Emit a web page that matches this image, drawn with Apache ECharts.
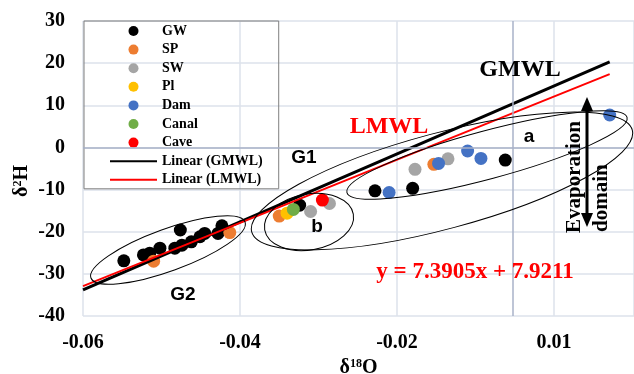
<!DOCTYPE html>
<html>
<head>
<meta charset="utf-8">
<script src="https://cdn.jsdelivr.net/npm/echarts@6/dist/echarts.min.js"></script>
<style>
  html, body { margin: 0; padding: 0; background: #fff; }
  #chart { width: 634px; height: 374px; }
</style>
</head>
<body>
<div id="chart"></div>
<script>
// values: [δ18O, δ2H]
const gw = [
  [-0.0548, -26.9], [-0.0523, -25.5], [-0.0515, -25.1], [-0.0502, -23.9],
  [-0.0476, -19.6], [-0.0483, -23.9], [-0.0474, -23.2], [-0.0462, -22.4],
  [-0.0451, -21.2], [-0.0445, -20.4], [-0.0423, -18.6], [-0.0428, -20.4],
  [-0.0324, -13.7],
  [-0.0228, -10.3], [-0.0180, -9.7], [-0.0062, -3.0]
]
const sp    = [[-0.0510, -27.0], [-0.0413, -20.2], [-0.0350, -16.3], [-0.0153, -4.0]]
const sw    = [[-0.0310, -15.2], [-0.0286, -13.3], [-0.0177, -5.2], [-0.0135, -2.7]]
const pl    = [[-0.0340, -15.6]]
const dam   = [[-0.0210, -10.7], [-0.0147, -3.8], [-0.0110, -0.85], [-0.0093, -2.6], [0.0071, 7.7]]
const canal = [[-0.0332, -14.7]]
const cave  = [[-0.0295, -12.5]]

// trendlines (end points)
const gmwl = [[-0.06, -33.8], [0.0071, 20.3]]
const lmwl = [[-0.06, -32.9], [0.0071, 17.4]]

// axis ticks as printed
const xTicks      = [-0.06, -0.04, -0.02, 0]
const xTickLabels = ['-0.06', '-0.04', '-0.02', '0.01']
const axisCrossX  = -0.0052   // where the dark vertical axis line sits

const serif = "'Liberation Serif', 'Times New Roman', serif"
const sans  = "'Liberation Sans', Arial, sans-serif"

const chart = echarts.init(document.getElementById('chart'), null, { renderer: 'canvas' })

function dots(name, data, color) {
  return { name, type: 'scatter', data, symbol: 'circle', symbolSize: 13,
    itemStyle: { color, opacity: 1 }, emphasis: { disabled: true } }
}

function label(text, x, y, size, color, family, rotation) {
  return {
    type: 'text', x, y, z: 120, rotation: rotation || 0, silent: true,
    style: { text, fill: color, fontSize: size, fontWeight: 'bold', fontFamily: family,
      align: rotation ? 'left' : 'center', verticalAlign: 'middle' },
  }
}

function ring(cx, cy, rx, ry, deg) {
  return { type: 'ellipse', x: cx, y: cy, rotation: deg * Math.PI / 180, z: 110, silent: true,
    shape: { cx: 0, cy: 0, rx, ry }, style: { fill: null, stroke: '#000', lineWidth: 1 } }
}

const supRich = {
  d: { fontFamily: serif, fontWeight: 'bold', fontSize: 20, color: '#000' },
  s: { fontFamily: serif, fontWeight: 'bold', fontSize: 12, color: '#000', verticalAlign: 'top', padding: [0, 0, 6, 0] },
}

const gridColor = '#dde2eb'
const axisDark  = '#a8b2c8'

chart.setOption({
  animation: false,
  backgroundColor: '#fff',
  grid: { left: 83, right: 0, top: 21, bottom: 58, outerBoundsMode: 'none' },
  legend: {
    orient: 'vertical', left: 84, top: 21,
    padding: [3, 16, 2, 25],
    itemWidth: 47, itemHeight: 10, itemGap: 4.6,
    borderColor: '#7f7f7f', borderWidth: 1,
    selectedMode: false,
    textStyle: { fontFamily: serif, fontWeight: 'bold', fontSize: 14, lineHeight: 14, color: '#000' },
    data: ['GW', 'SP', 'SW', 'Pl', 'Dam', 'Canal', 'Cave',
      { name: 'Linear (GMWL)', itemStyle: { opacity: 0 } },
      { name: 'Linear (LMWL)', itemStyle: { opacity: 0 } }],
  },
  xAxis: {
    type: 'value', min: -0.06, max: 0.0102, interval: 0.02,
    name: '{d|δ}{s|18}{d|O}', nameLocation: 'middle', nameGap: 33,
    nameTextStyle: { rich: supRich },
    axisLine: { show: false }, axisTick: { show: false },
    axisLabel: {
      margin: 17, color: '#000', fontFamily: serif, fontWeight: 'bold', fontSize: 20,
      formatter: (v) => {
        const i = xTicks.findIndex(t => Math.abs(t - v) < 1e-6)
        return i < 0 ? '' : xTickLabels[i]
      },
    },
    splitLine: { show: true, lineStyle: { color: gridColor, width: 1.5 } },
  },
  yAxis: {
    type: 'value', min: -40, max: 30, interval: 10,
    axisLine: { show: false }, axisTick: { show: false },
    axisLabel: { margin: 18, color: '#000', fontFamily: serif, fontWeight: 'bold', fontSize: 20 },
    splitLine: { show: true, lineStyle: { color: gridColor, width: 1.5 } },
  },
  series: [
    Object.assign(dots('GW', gw, '#000000'), {
      markLine: {
        silent: true, symbol: 'none', precision: 4, label: { show: false },
        lineStyle: { color: axisDark, width: 1.5, type: 'solid' },
        data: [{ xAxis: axisCrossX }, { yAxis: 0 }],
      },
    }),
    dots('SP', sp, '#ed7d31'),
    dots('SW', sw, '#a5a5a5'),
    dots('Pl', pl, '#ffc000'),
    dots('Dam', dam, '#4472c4'),
    dots('Canal', canal, '#70ad47'),
    dots('Cave', cave, '#ff0000'),
    { name: 'Linear (GMWL)', type: 'line', data: gmwl, symbol: 'none', silent: true,
      lineStyle: { color: '#000', width: 3 }, itemStyle: { color: '#000' } },
    { name: 'Linear (LMWL)', type: 'line', data: lmwl, symbol: 'none', silent: true,
      lineStyle: { color: '#ff0000', width: 2 }, itemStyle: { color: '#ff0000' } },
  ],
  graphic: [
    ring(168, 250, 82, 21, 20),
    ring(309, 222, 45, 28, 10),
    ring(442, 181, 197, 48, 15),
    ring(487, 155, 145, 24, 15),
    {
      type: 'text', x: 22, y: 181, rotation: Math.PI / 2, z: 120, silent: true,
      style: { text: '{d|δ}{s|2}{d|H}', rich: supRich, align: 'center', verticalAlign: 'middle' },
    },
    label('GMWL', 520, 70, 24, '#000', serif),
    label('LMWL', 389, 127, 24, '#ff0000', serif),
    label('G1', 304, 158, 19, '#000', sans),
    label('G2', 183, 295, 19, '#000', sans),
    label('a', 529, 137, 19, '#000', sans),
    label('b', 317, 227, 19, '#000', sans),
    label('y = 7.3905x + 7.9211', 475, 272, 23, '#ff0000', serif),
    label('Evaporation', 575, 233, 21, '#000', serif, Math.PI / 2),
    label('domain', 602, 232, 21, '#000', serif, Math.PI / 2),
    { type: 'line', z: 115, silent: true, shape: { x1: 587, y1: 108, x2: 587, y2: 216 },
      style: { stroke: '#000', lineWidth: 3 } },
    { type: 'polygon', z: 115, silent: true, shape: { points: [[587, 97], [581, 111], [593, 111]] },
      style: { fill: '#000' } },
    { type: 'polygon', z: 115, silent: true, shape: { points: [[587, 227], [581, 213], [593, 213]] },
      style: { fill: '#000' } },
  ],
})
</script>
</body>
</html>
